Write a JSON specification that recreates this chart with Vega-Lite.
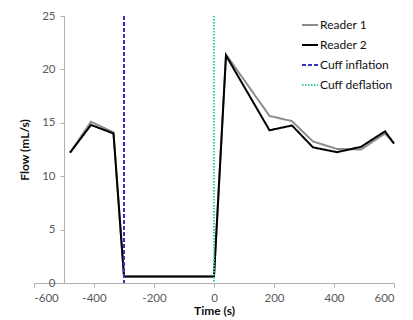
{
  "$schema": "https://vega.github.io/schema/vega-lite/v6.json",
  "width": 360,
  "height": 267,
  "autosize": "none",
  "padding": {"left": 34, "top": 16, "right": 19, "bottom": 37},
  "background": "white",
  "config": {
    "view": {"stroke": null},
    "font": "Lato",
    "axis": {"grid": false, "domainColor": "#B0B0B0", "tickColor": "#B0B0B0", "labelColor": "#595959", "labelFont": "Lato", "labelFontSize": 11.5, "titleFont": "Lato", "titleFontSize": 12, "titleFontWeight": "bold", "titleColor": "#111111"}
  },
  "datasets": {
    "readers": [
      {"series": "Reader 1", "time": -480, "flow": 12.2},
      {"series": "Reader 1", "time": -410, "flow": 15.1},
      {"series": "Reader 1", "time": -335, "flow": 14.1},
      {"series": "Reader 1", "time": -300, "flow": 0.6},
      {"series": "Reader 1", "time": 0, "flow": 0.6},
      {"series": "Reader 1", "time": 40, "flow": 21.4},
      {"series": "Reader 1", "time": 185, "flow": 15.65},
      {"series": "Reader 1", "time": 260, "flow": 15.15},
      {"series": "Reader 1", "time": 330, "flow": 13.25},
      {"series": "Reader 1", "time": 410, "flow": 12.55},
      {"series": "Reader 1", "time": 490, "flow": 12.5},
      {"series": "Reader 1", "time": 570, "flow": 14.0},
      {"series": "Reader 1", "time": 600, "flow": 13.1},
      {"series": "Reader 2", "time": -480, "flow": 12.2},
      {"series": "Reader 2", "time": -410, "flow": 14.8},
      {"series": "Reader 2", "time": -335, "flow": 14.0},
      {"series": "Reader 2", "time": -300, "flow": 0.6},
      {"series": "Reader 2", "time": 0, "flow": 0.6},
      {"series": "Reader 2", "time": 40, "flow": 21.3},
      {"series": "Reader 2", "time": 185, "flow": 14.3},
      {"series": "Reader 2", "time": 260, "flow": 14.75},
      {"series": "Reader 2", "time": 330, "flow": 12.7},
      {"series": "Reader 2", "time": 410, "flow": 12.25},
      {"series": "Reader 2", "time": 490, "flow": 12.75},
      {"series": "Reader 2", "time": 570, "flow": 14.2},
      {"series": "Reader 2", "time": 600, "flow": 13.05}
    ],
    "cuffs": [
      {"series": "Cuff inflation", "time": -300},
      {"series": "Cuff deflation", "time": 0}
    ]
  },
  "encoding": {
    "x": {"field": "time", "type": "quantitative", "title": "Time (s)",
      "scale": {"domain": [-600, 600], "nice": false, "zero": false},
      "axis": {"values": [-600, -400, -200, 0, 200, 400, 600], "labelExpr": "toString(datum.value)", "tickSize": 4, "labelPadding": 5, "titlePadding": 2}},
    "color": {"field": "series", "type": "nominal",
      "scale": {"domain": ["Reader 1", "Reader 2", "Cuff inflation", "Cuff deflation"], "range": ["#8C8C8C", "#000000", "#3333BB", "#2ED0A0"]},
      "legend": {"title": null, "orient": "none", "legendX": 267, "legendY": 0, "symbolType": "stroke", "symbolSize": 256, "symbolStrokeWidth": 2, "labelFont": "Lato", "labelFontSize": 12, "labelColor": "#111111", "rowPadding": 5, "labelOffset": 1}},
    "strokeDash": {"field": "series", "type": "nominal",
      "scale": {"domain": ["Reader 1", "Reader 2", "Cuff inflation", "Cuff deflation"], "range": [[1, 0], [1, 0], [4, 2], [1.5, 1.5]]},
      "legend": {"title": null}}
  },
  "layer": [
    {
      "data": {"name": "readers"},
      "mark": {"type": "line", "strokeWidth": 2},
      "encoding": {
        "y": {"field": "flow", "type": "quantitative", "title": "Flow (mL/s)",
          "scale": {"domain": [0, 25], "nice": false},
          "axis": {"values": [0, 5, 10, 15, 20, 25], "offset": -30, "tickSize": 4, "labelPadding": 5, "titlePadding": 10}},
        "strokeWidth": {"field": "series", "type": "nominal", "scale": {"domain": ["Reader 1", "Reader 2"], "range": [2, 2.6]}, "legend": null}
      }
    },
    {
      "data": {"name": "cuffs"},
      "mark": {"type": "rule", "strokeWidth": 2}
    }
  ]
}
